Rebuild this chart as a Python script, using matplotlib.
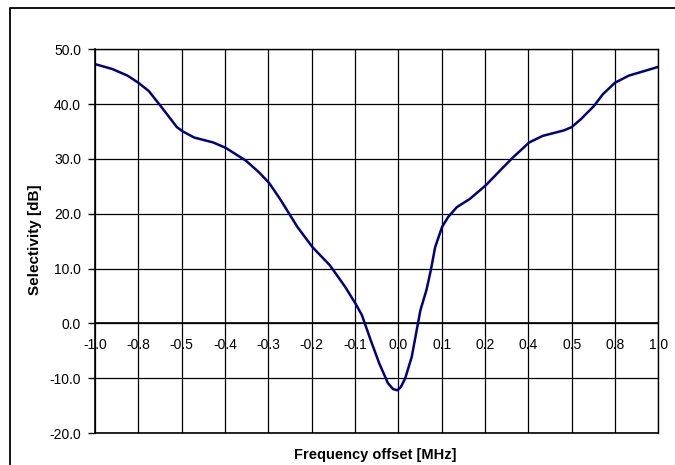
import matplotlib
matplotlib.use('Agg')
import matplotlib.pyplot as plt
from matplotlib.lines import Line2D

# category labels along the frequency axis (as shown, rounded)
x_labels = ['-1.0', '-0.8', '-0.5', '-0.4', '-0.3', '-0.2', '-0.1',
            '0.0', '0.1', '0.2', '0.4', '0.5', '0.8', '1.0']

# curve position along the category axis and selectivity in dB
curve_pos = [0.0, 0.4, 0.75, 1.0, 1.24, 1.54, 1.89, 2.03, 2.29, 2.73, 3.02,
             3.48, 3.78, 4.02, 4.27, 4.67, 5.02, 5.42, 5.77, 6.02, 6.16,
             6.36, 6.56, 6.76, 6.88, 6.98, 7.06, 7.16, 7.31, 7.51, 7.65,
             7.75, 7.85, 8.01, 8.15, 8.35, 8.65, 9.02, 9.35, 9.65, 10.02,
             10.33, 10.82, 11.0, 11.22, 11.52, 11.72, 12.0, 12.32, 12.62, 13.0]
curve_db = [47.3, 46.4, 45.2, 43.9, 42.4, 39.4, 35.8, 35.0, 33.9, 33.0, 32.0,
            29.7, 27.6, 25.6, 22.7, 17.6, 13.9, 10.6, 6.7, 3.5, 1.5,
            -3.0, -7.3, -10.9, -12.0, -12.2, -11.6, -10.0, -6.1, 2.4, 6.1,
            9.7, 13.9, 17.6, 19.4, 21.2, 22.7, 25.2, 27.9, 30.3, 33.0,
            34.2, 35.2, 35.8, 37.3, 39.7, 41.8, 43.9, 45.2, 45.9, 46.8]

y_ticks = [50, 40, 30, 20, 10, 0, -10, -20]

plt.rcParams['font.family'] = ['Liberation Sans', 'DejaVu Sans']

fig = plt.figure(figsize=(6.75, 4.65), dpi=100)
ax = fig.add_axes([95 / 675, 1 - 433 / 465, (658.3 - 95) / 675, (433 - 49.3) / 465])

# outer chart frame (left and top edges visible)
fig.add_artist(Line2D([10 / 675, 10 / 675, 1.0], [0.0, 1 - 8 / 465, 1 - 8 / 465],
                      transform=fig.transFigure, color='black', lw=1.3))

n = len(x_labels)
ax.set_xlim(0, n - 1)
ax.set_ylim(-20, 50)

# grid
ax.set_xticks(range(n))
ax.set_xticklabels([])
ax.tick_params(axis='x', length=0)
ax.set_yticks(y_ticks)
ax.set_yticklabels(['%.1f' % v for v in y_ticks], fontsize=10)
ax.tick_params(axis='y', length=5, width=1, pad=5, direction='out')
ax.grid(True, color='black', lw=0.9)
ax.set_axisbelow(True)
for s in ax.spines.values():
    s.set_color('black')
    s.set_linewidth(1.0)
ax.spines['left'].set_linewidth(1.2)
ax.spines['bottom'].set_linewidth(1.2)

# category axis crosses at 0 dB
ax.axhline(0, color='black', lw=1.2)
for i, lab in enumerate(x_labels):
    ax.text(i, -4.0, lab, ha='center', va='center', fontsize=10)

ax.plot(curve_pos, curve_db, color='#000080', lw=1.8, solid_capstyle='round')

fig.text(35.5 / 675, 1 - 240 / 465, 'Selectivity [dB]', rotation=90,
         ha='center', va='center', fontsize=11, fontweight='bold')
fig.text(375 / 675, 1 - 455 / 465, 'Frequency offset [MHz]',
         ha='center', va='center', fontsize=10.5, fontweight='bold')

fig.savefig('out.png', dpi=100)
